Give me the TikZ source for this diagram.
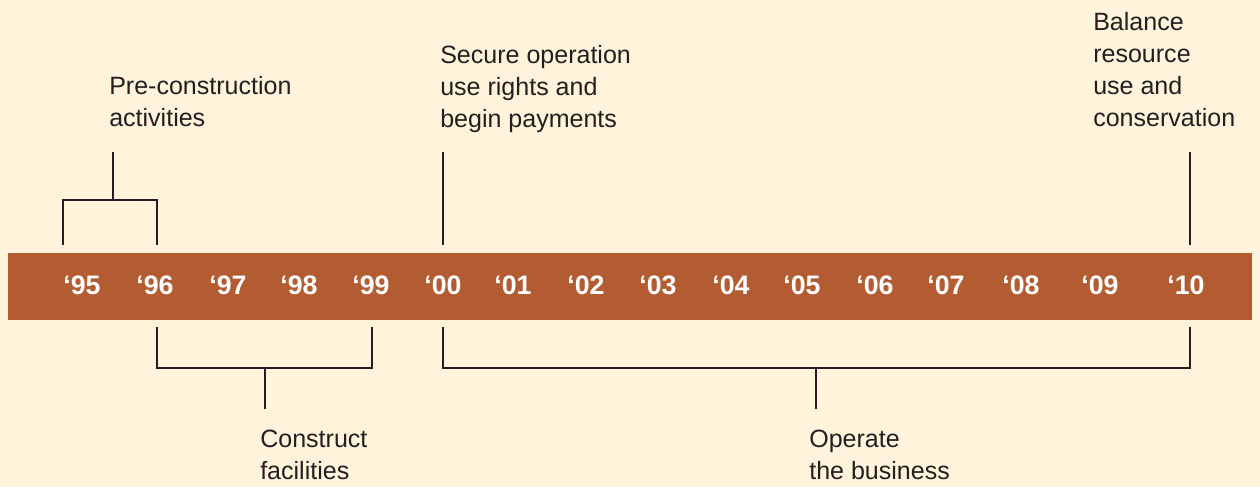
\documentclass[tikz,border=0pt]{standalone}
\usepackage{fontspec}
\setmainfont{Liberation Sans}
\usetikzlibrary{calc}
\definecolor{paper}{RGB}{255,243,220}
\definecolor{rust}{RGB}{179,92,50}
\definecolor{ink}{RGB}{35,31,32}
\tikzset{
	yearlbl/.style={text=white, font=\fontsize{19}{22}\selectfont\bfseries, anchor=base, inner sep=0pt},
	notelbl/.style={text=ink, font=\fontsize{17.8}{22.76}\selectfont, anchor=north west, align=left, inner sep=0pt},
	brk/.style={draw=ink, line width=2pt}
}

\begin{document}
\begin{tikzpicture}[x=0.025cm, y=-0.025cm]
			%%%%% START %%%%%
			
			\fill[paper] (0, 0) rectangle (1260, 487);
			\fill[rust] (8, 253) rectangle (1252, 320);
			
			\foreach \xp/\yr in {82/95, 155/96, 228/97, 299/98, 371/99, 443/00, 513/01, 586/02, 658/03, 731/04, 802/05, 875/06, 946/07, 1021/08, 1100/09, 1186/10}
				\node[yearlbl] (yr\yr) at (\xp, 294) {‘\yr};
			
			\node[notelbl] (precon) at (109, 76) {Pre-construction\\activities};
			\node[notelbl] (secure) at (440, 45) {Secure operation\\use rights and\\begin payments};
			\node[notelbl] (balance) at (1093, 12) {Balance\\resource\\use and\\conservation};
			\node[notelbl] (construct) at (260, 430) {Construct\\facilities};
			\node[notelbl] (operate) at (809, 430) {Operate\\the business};
			
			\coordinate (p95) at (63, 245);
			\coordinate (p96) at (157, 245);
			\coordinate (pbar) at (113, 200);
			\coordinate (pstem) at (113, 152);
			\draw[brk] (p95) |- (pbar) -| (p96);
			\draw[brk] (pbar) -- (pstem);
			
			\coordinate (s00) at (443, 245);
			\coordinate (s00top) at (443, 152);
			\draw[brk] (s00) -- (s00top);
			
			\coordinate (b10) at (1190, 245);
			\coordinate (b10top) at (1190, 152);
			\draw[brk] (b10) -- (b10top);
			
			\coordinate (c96) at (157, 327);
			\coordinate (c99) at (372, 327);
			\coordinate (cbar) at (265, 368);
			\coordinate (cstem) at (265, 409);
			\draw[brk] (c96) |- (cbar) -| (c99);
			\draw[brk] (cbar) -- (cstem);
			
			\coordinate (o00) at (443, 327);
			\coordinate (o10) at (1190, 327);
			\coordinate (obar) at (816, 368);
			\coordinate (ostem) at (816, 409);
			\draw[brk] (o00) |- (obar) -| (o10);
			\draw[brk] (obar) -- (ostem);
			
			%%%%% END %%%%%
\end{tikzpicture}
\end{document}
